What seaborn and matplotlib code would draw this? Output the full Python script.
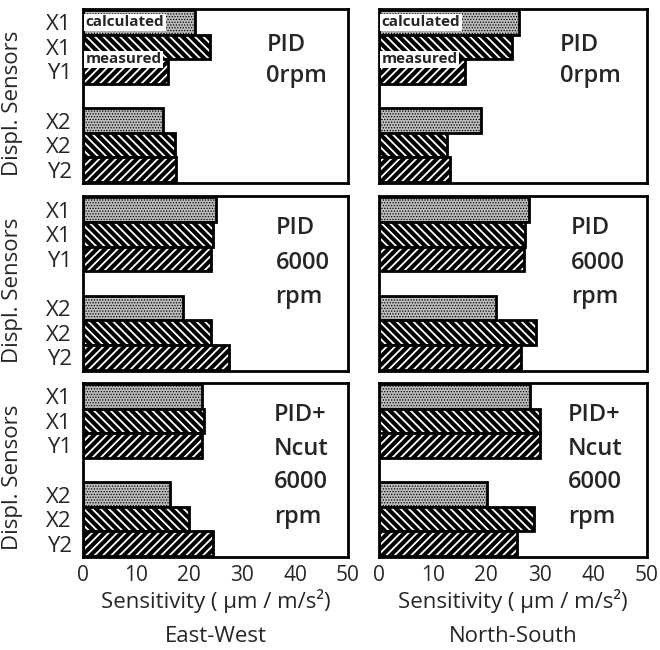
import numpy as np
import pandas as pd
import matplotlib
matplotlib.use("Agg")
import matplotlib.pyplot as plt
from matplotlib import colors as mcolors
import seaborn as sns

# ---------------- data ----------------
sensor_keys = ["X1c", "X1m", "Y1m", "gap", "X2c", "X2m", "Y2m"]
sensor_labels = ["X1", "X1", "Y1", "", "X2", "X2", "Y2"]
bar_keys = ["X1c", "X1m", "Y1m", "X2c", "X2m", "Y2m"]
bar_kind = ["calculated", "measured X", "measured Y", "calculated", "measured X", "measured Y"]

conditions = [["PID", "0rpm"], ["PID", "6000", "rpm"], ["PID+", "Ncut", "6000", "rpm"]]
directions = ["East-West", "North-South"]

ew_pid_0rpm = [21.1, 24.0, 16.0, 15.1, 17.4, 17.5]
ns_pid_0rpm = [26.1, 24.8, 16.0, 19.0, 12.7, 13.2]
ew_pid_6000 = [25.1, 24.5, 24.1, 18.9, 24.1, 27.6]
ns_pid_6000 = [28.0, 27.2, 27.1, 21.8, 29.3, 26.4]
ew_ncut_6000 = [22.5, 22.8, 22.5, 16.4, 20.0, 24.6]
ns_ncut_6000 = [28.2, 30.0, 30.0, 20.1, 28.9, 25.7]

values = [[ew_pid_0rpm, ns_pid_0rpm],
          [ew_pid_6000, ns_pid_6000],
          [ew_ncut_6000, ns_ncut_6000]]

x_ticks = [0, 10, 20, 30, 40, 50]
xlabel = "Sensitivity ( \u03bcm / m/s\u00b2)"
ylabel = "Displ. Sensors"

# ---------------- style ----------------
sns.set_style("white")
plt.rcParams["font.family"] = ["Open Sans", "DejaVu Sans"]
plt.rcParams["hatch.linewidth"] = 1.3

kind_face = {"calculated": "#bcbcbc", "measured X": "black", "measured Y": "black"}
kind_hatch = {"calculated": "......", "measured X": "\\\\\\\\", "measured Y": "////"}
kind_hcol = {"calculated": "black", "measured X": "white", "measured Y": "white"}
kind_hlw = {"calculated": 0.6, "measured X": 1.3, "measured Y": 1.3}

fig = plt.figure(figsize=(6.6, 6.5), dpi=100)
W, H = 660.0, 650.0
col_x = [(83, 348), (379, 647)]
row_y = [(9, 183), (196, 371), (383, 557)]

text_y = [[0.9, 2.2], [0.75, 2.15, 3.55], [0.75, 2.15, 3.5, 4.9]]
text_x = [[34.6, 36.3, 36.0], [33.8, 35.8, 35.3]]

for r in range(3):
    for c in range(2):
        x0, x1 = col_x[c]
        y0, y1 = row_y[r]
        ax = fig.add_axes([x0 / W, 1 - y1 / H, (x1 - x0) / W, (y1 - y0) / H])
        df = pd.DataFrame({"sensor": bar_keys, "value": values[r][c], "kind": bar_kind})
        sns.barplot(data=df, x="value", y="sensor", hue="kind", order=sensor_keys,
                    hue_order=["calculated", "measured X", "measured Y"],
                    palette=kind_face, dodge=False, orient="h", width=1.0,
                    edgecolor="black", linewidth=2.0, legend=False, ax=ax,
                    saturation=1)
        for p in ax.patches:
            idx = int(round(p.get_y() + p.get_height() / 2))
            key = sensor_keys[idx]
            if key == "gap":
                continue
            kind = bar_kind[bar_keys.index(key)]
            p.set_hatch(kind_hatch[kind])
            if hasattr(p, "set_hatch_linewidth"):
                p.set_hatch_linewidth(kind_hlw[kind])
            if hasattr(p, "set_hatchcolor"):
                p.set_hatchcolor(kind_hcol[kind])
            else:
                p._hatch_color = mcolors.to_rgba(kind_hcol[kind])
        ax.set_xlim(0, 50)
        ax.set_ylim(6.55, -0.55)
        ax.set_xticks(x_ticks)
        ax.set_yticks(range(len(sensor_keys)))
        ax.tick_params(length=0)
        for s in ax.spines.values():
            s.set_visible(True)
            s.set_linewidth(2.0)
            s.set_color("black")
        if c == 0:
            ax.set_yticklabels(sensor_labels, fontsize=16)
            ax.set_ylabel(ylabel, fontsize=16)
            ax.yaxis.set_label_coords(-0.225, 0.46)
            ax.tick_params(axis="y", pad=8)
        else:
            ax.set_yticklabels([])
            ax.set_ylabel("")
        if r == 2:
            ax.set_xticklabels([str(t) for t in x_ticks], fontsize=15)
            ax.set_xlabel(xlabel, fontsize=16, labelpad=2)
            ax.tick_params(axis="x", pad=6)
        else:
            ax.set_xticklabels([])
            ax.set_xlabel("")
        for line, yy in zip(conditions[r], text_y[r]):
            ax.text(text_x[c][r], yy, line, fontsize=17, fontweight="semibold",
                    ha="left", va="center")
        if r == 0:
            ax.text(0.5, 0.0, "calculated", fontsize=11, fontweight="bold", ha="left", va="center",
                    bbox=dict(facecolor="white", edgecolor="none", pad=1.0))
            ax.text(0.5, 1.5, "measured", fontsize=11, fontweight="bold", ha="left", va="center",
                    bbox=dict(facecolor="white", edgecolor="none", pad=1.0))

for c in range(2):
    x0, x1 = col_x[c]
    fig.text((x0 + x1) / 2 / W, 1 - 637 / H, directions[c], fontsize=16,
             fontweight="medium", ha="center", va="center")

fig.savefig("out.png", dpi=100)
